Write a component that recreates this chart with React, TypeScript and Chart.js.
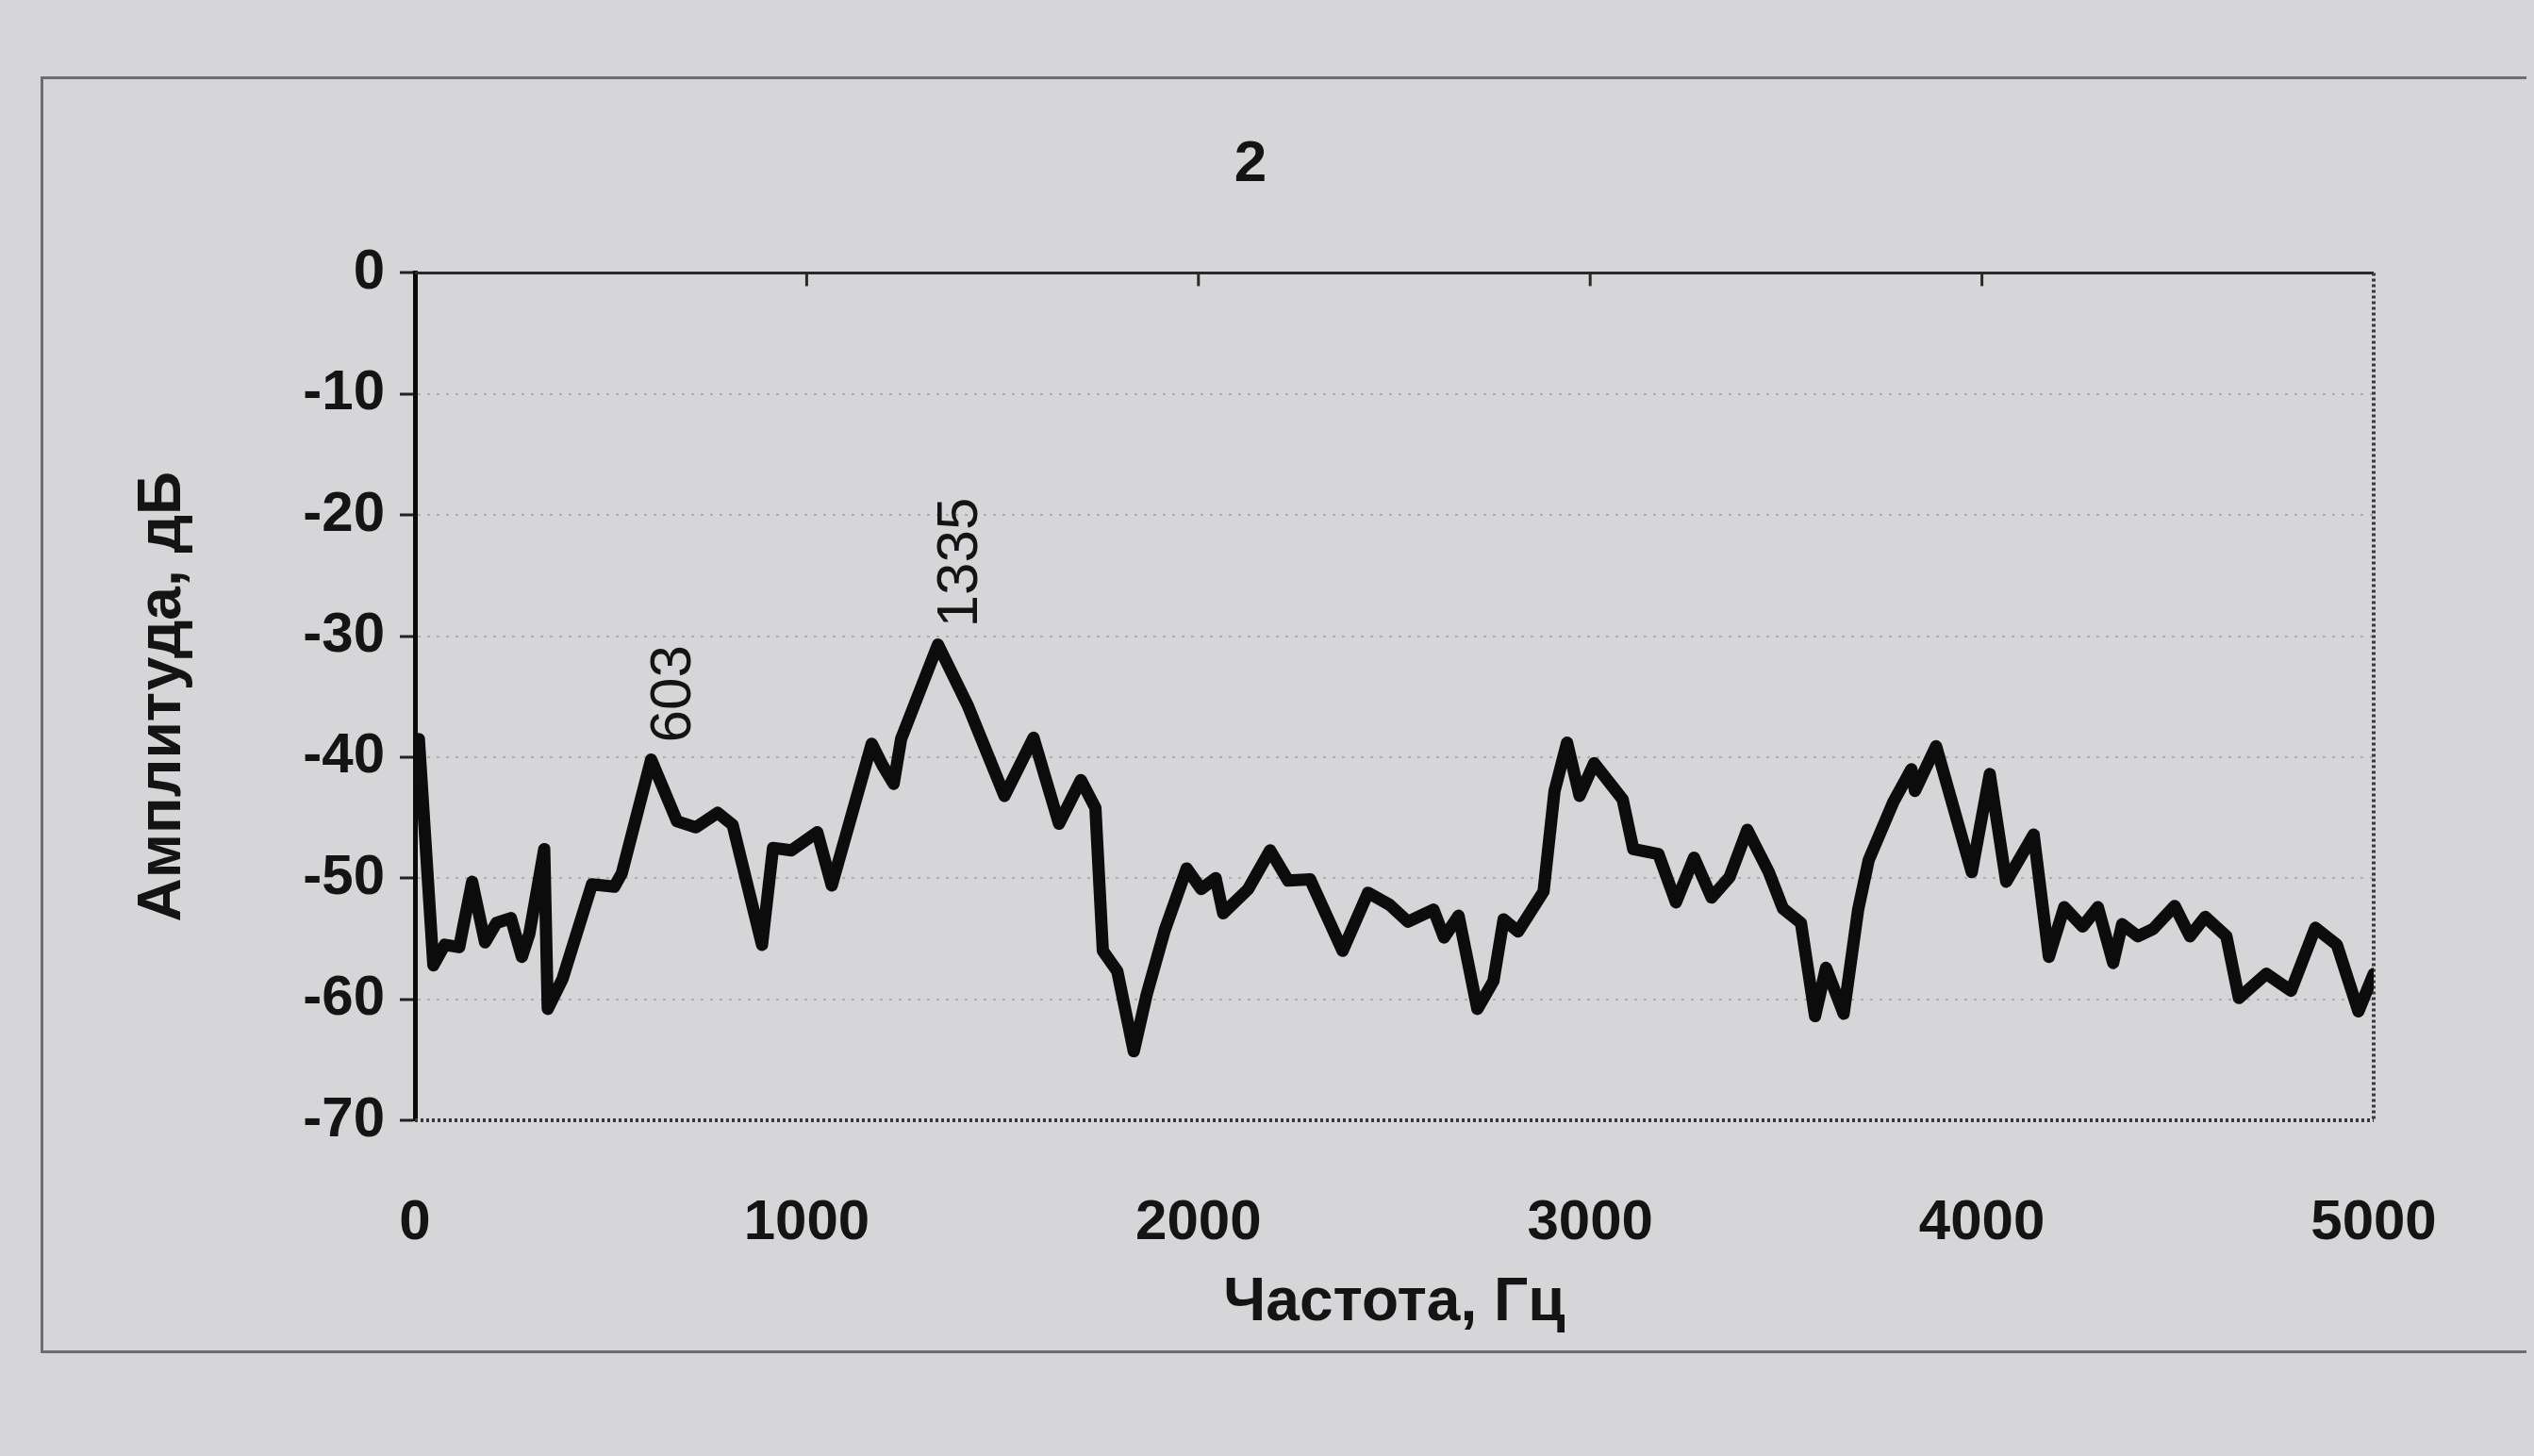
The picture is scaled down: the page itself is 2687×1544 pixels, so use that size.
import React, { useEffect, useRef } from "react";
import { Chart, registerables } from "chart.js";

Chart.register(...registerables);

// ---- data ----
const freqs = [
  10, 47, 76, 113, 146, 179, 208, 245, 273, 292, 330, 339, 377, 452, 509, 528,
  603, 669, 717, 773, 811, 886, 914, 961, 1027, 1064, 1166, 1194, 1222, 1241,
  1335, 1412, 1505, 1579, 1644, 1700, 1737, 1756, 1793, 1835, 1868, 1914, 1970,
  2007, 2044, 2063, 2127, 2183, 2229, 2285, 2368, 2433, 2488, 2535, 2600, 2627,
  2664, 2712, 2753, 2779, 2816, 2881, 2909, 2941, 2973, 3010, 3083, 3110, 3174,
  3219, 3265, 3310, 3356, 3401, 3456, 3492, 3538, 3574, 3602, 3647, 3684, 3711,
  3774, 3820, 3829, 3883, 3974, 4020, 4062, 4132, 4171, 4210, 4257, 4296, 4335,
  4358, 4398, 4437, 4492, 4531, 4570, 4624, 4656, 4726, 4789, 4851, 4906, 4961,
  5000,
];
const amps = [
  -38.5, -57.2, -55.5, -55.7, -50.3, -55.3, -53.7, -53.3, -56.5, -54.6, -47.6,
  -60.8, -58.3, -50.5, -50.7, -49.6, -40.2, -45.3, -45.8, -44.6, -45.6, -55.5,
  -47.5, -47.7, -46.2, -50.6, -38.9, -40.7, -42.2, -38.5, -30.7, -35.8, -43.2,
  -38.4, -45.5, -41.9, -44.2, -56.0, -57.7, -64.3, -59.6, -54.3, -49.2, -50.9,
  -50.0, -52.9, -50.9, -47.7, -50.2, -50.1, -56.0, -51.2, -52.2, -53.6, -52.6,
  -54.9, -53.1, -60.8, -58.5, -53.4, -54.4, -51.1, -42.8, -38.8, -43.2, -40.5,
  -43.5, -47.6, -48.0, -52.0, -48.3, -51.6, -49.9, -46.0, -49.5, -52.5, -53.7,
  -61.4, -57.4, -61.2, -52.6, -48.5, -43.7, -41.0, -42.8, -39.1, -49.5, -41.4,
  -50.3, -46.4, -56.5, -52.4, -54.0, -52.4, -57.0, -53.8, -54.8, -54.2, -52.3,
  -54.8, -53.2, -54.8, -59.9, -57.9, -59.3, -54.1, -55.5, -61.0, -57.9,
];
const markedPeaks = [603, 1335];
const xTickValues = [0, 1000, 2000, 3000, 4000, 5000];
const yTickValues = [0, -10, -20, -30, -40, -50, -60, -70];
const chartTitle = "2";
const xAxisTitle = "Частота, Гц";
const yAxisTitle = "Амплитуда, дБ";

const FONT = "'Liberation Sans', Arial, sans-serif";
const INK = "#141414";

const framePlugin = {
  id: "frame",
  beforeDatasetsDraw(chart: any) {
    const { ctx, chartArea } = chart;
    const { left, right, top, bottom } = chartArea;
    const xs = chart.scales.x;
    ctx.save();
    ctx.strokeStyle = "#2a2a2a";
    ctx.lineWidth = 3;
    ctx.beginPath();
    ctx.moveTo(left, top);
    ctx.lineTo(right, top);
    ctx.stroke();
    xTickValues.slice(1, -1).forEach((v) => {
      const px = xs.getPixelForValue(v);
      ctx.beginPath();
      ctx.moveTo(px, top);
      ctx.lineTo(px, top + 14);
      ctx.stroke();
    });
    ctx.strokeStyle = "#3a3a3a";
    ctx.lineWidth = 4;
    ctx.setLineDash([3, 3]);
    ctx.beginPath();
    ctx.moveTo(right, top);
    ctx.lineTo(right, bottom);
    ctx.moveTo(left, bottom);
    ctx.lineTo(right, bottom);
    ctx.stroke();
    ctx.restore();
  },
};

const peakLabelPlugin = {
  id: "peakLabels",
  afterDatasetsDraw(chart: any) {
    const { ctx } = chart;
    const meta = chart.getDatasetMeta(0);
    ctx.save();
    ctx.fillStyle = INK;
    ctx.font = `62px ${FONT}`;
    ctx.textAlign = "left";
    ctx.textBaseline = "middle";
    markedPeaks.forEach((f) => {
      const i = freqs.indexOf(f);
      if (i < 0) return;
      const el = meta.data[i];
      ctx.save();
      ctx.translate(el.x + 24, el.y - 18);
      ctx.rotate(-Math.PI / 2);
      ctx.fillText(String(f), 0, 0);
      ctx.restore();
    });
    ctx.restore();
  },
};

export default function App() {
  const ref = useRef<HTMLCanvasElement | null>(null);

  useEffect(() => {
    document.body.style.backgroundColor = "#d6d6d8";
    if (!ref.current) return;
    const points = freqs.map((f, i) => ({ x: f, y: amps[i] }));
    const chart = new Chart(ref.current, {
      type: "line",
      data: {
        datasets: [
          {
            data: points,
            borderColor: "#0c0c0c",
            borderWidth: 13,
            borderJoinStyle: "round",
            borderCapStyle: "round",
            pointRadius: 0,
            tension: 0,
            fill: false,
          },
        ],
      },
      options: {
        animation: false,
        responsive: false,
        maintainAspectRatio: false,
        events: [],
        layout: { padding: { left: 127, right: 162, top: 0, bottom: 0 } },
        plugins: {
          legend: { display: false },
          tooltip: { enabled: false },
          title: {
            display: true,
            text: chartTitle,
            color: INK,
            font: { family: FONT, size: 62, weight: "bold", lineHeight: 1.2 },
            padding: { top: 130, bottom: 77 },
          },
        },
        scales: {
          x: {
            type: "linear",
            min: 0,
            max: 5000,
            afterBuildTicks: (s: any) => {
              s.ticks = xTickValues.map((v) => ({ value: v }));
            },
            afterFit: (s: any) => {
              s.height = 348;
            },
            grid: { display: false, drawTicks: false },
            border: { display: false },
            ticks: {
              padding: 73,
              maxRotation: 0,
              autoSkip: false,
              color: INK,
              font: { family: FONT, size: 60, weight: "bold", lineHeight: 1.2 },
              callback: (v: any) => String(v),
            },
            title: {
              display: true,
              text: xAxisTitle,
              color: INK,
              font: { family: FONT, size: 64, weight: "bold", lineHeight: 1.2 },
              padding: { top: 0, bottom: 115 },
            },
          },
          y: {
            type: "linear",
            min: -70,
            max: 0,
            afterBuildTicks: (s: any) => {
              s.ticks = yTickValues.map((v) => ({ value: v }));
            },
            afterFit: (s: any) => {
              s.width = 305;
            },
            grid: {
              display: true,
              drawTicks: true,
              tickLength: 16,
              tickWidth: 3,
              tickColor: "#222",
              lineWidth: 2,
              color: (c: any) =>
                c.tick && (c.tick.value === 0 || c.tick.value === -70)
                  ? "rgba(0,0,0,0)"
                  : "rgba(80,80,80,0.3)",
            },
            border: { display: true, color: "#0a0a0a", width: 5, dash: [3, 7] },
            ticks: {
              padding: 16,
              autoSkip: false,
              color: INK,
              font: { family: FONT, size: 60, weight: "bold", lineHeight: 1.2 },
              callback: (v: any) => String(v),
            },
            title: {
              display: true,
              text: yAxisTitle,
              color: INK,
              font: { family: FONT, size: 64, weight: "bold", lineHeight: 1.2 },
              padding: { top: 0, bottom: 0 },
            },
          },
        },
      },
      plugins: [framePlugin, peakLabelPlugin],
    });
    return () => chart.destroy();
  }, []);

  return (
    <div
      style={{
        position: "relative",
        width: 2671,
        height: 1528,
        overflow: "hidden",
      }}
    >
      <div
        style={{
          position: "absolute",
          left: 35,
          top: 73,
          width: 2700,
          height: 1354,
          border: "3px solid #6e6e6e",
          boxSizing: "border-box",
        }}
      />
      <canvas
        ref={ref}
        width={2671}
        height={1528}
        style={{ position: "absolute", left: 0, top: 0, width: 2671, height: 1528 }}
      />
    </div>
  );
}
